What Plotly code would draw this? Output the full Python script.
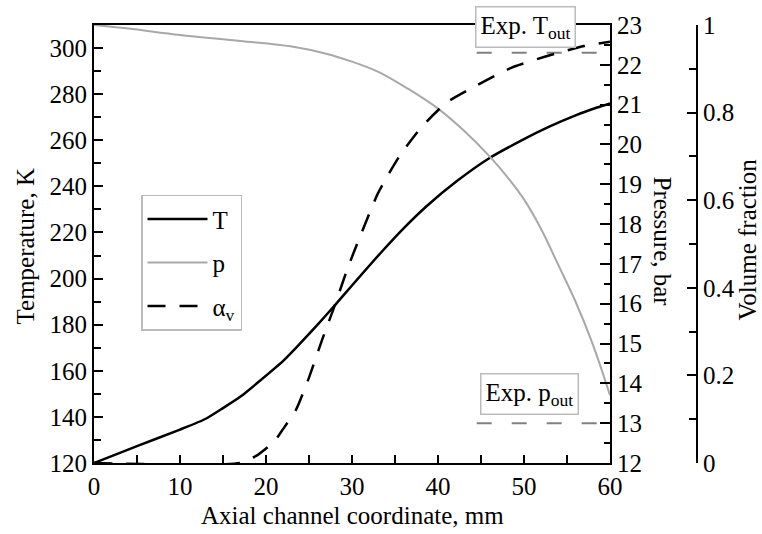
import plotly.graph_objects as go

# ---- data ----
x_T = [0, 5, 10, 13, 15, 17, 19.3, 22, 24, 26, 28, 30, 33.3, 36, 38.7, 42.2, 46, 50, 53, 56, 58.5, 60]
T_vals = [120, 127.3, 134.5, 139.2, 143.8, 148.7, 155.7, 164.3, 172, 180, 188.4, 197, 211,
          221.8, 231.5, 242.3, 252.3, 260.5, 266, 270.8, 274.2, 276]

x_p = [0, 4, 10, 17, 23, 27, 30, 33, 36.5, 40, 43, 46, 48, 50, 52, 54, 56, 58, 60]
p_vals = [23, 22.91, 22.75, 22.6, 22.46, 22.28, 22.08, 21.83, 21.4, 20.9, 20.35, 19.7, 19.2, 18.62,
          17.87, 16.97, 16.05, 14.98, 13.7]

x_a = [0, 17, 19, 21, 22, 23.5, 25, 26.5, 28, 29.5, 31, 33, 35.5, 38, 41, 44.5, 48.5, 52.5, 57, 60]
a_vals = [0, 0, 0.018, 0.05, 0.078, 0.122, 0.195, 0.28, 0.36, 0.445, 0.52, 0.615, 0.70, 0.765,
          0.823, 0.862, 0.902, 0.928, 0.952, 0.962]

exp_x = [44.5, 60]
exp_T_out = 298
exp_p_out = 13.0

FONT = "Liberation Serif"
FS = 25

fig = go.Figure()
fig.add_trace(go.Scatter(x=x_T, y=T_vals, name="T", legendgroup="T", mode="lines",
                         line=dict(color="black", width=2.5, shape="spline", smoothing=0.6), yaxis="y"))
fig.add_trace(go.Scatter(x=x_p, y=p_vals, name="p", legendgroup="p", mode="lines",
                         line=dict(color="#a8a8a8", width=2, shape="spline", smoothing=1.0), yaxis="y2"))
fig.add_trace(go.Scatter(x=x_a, y=a_vals, name="α<sub>v</sub>", legendgroup="a", mode="lines",
                         line=dict(color="black", width=2.5, dash="18px,14px", shape="spline", smoothing=0.6),
                         yaxis="y3"))
fig.add_trace(go.Scatter(x=exp_x, y=[exp_T_out] * 2, mode="lines", showlegend=False,
                         line=dict(color="#808080", width=2, dash="15px,20px"), yaxis="y"))
fig.add_trace(go.Scatter(x=exp_x, y=[exp_p_out] * 2, mode="lines", showlegend=False,
                         line=dict(color="#808080", width=2, dash="15px,20px"), yaxis="y2"))

tickfont = dict(family=FONT, size=FS, color="black")
common = dict(showgrid=False, zeroline=False, showline=True, linecolor="black", linewidth=2,
              ticks="inside", tickwidth=2, tickcolor="black", tickfont=tickfont)

L, R, T, B = 94, 65, 22, 71
W, H = 762, 534
pw = W - L - R
ph = H - T - B

def px(xp):
    return (xp - L) / pw

def py(yp):
    return (H - B - yp) / ph

fig.update_layout(
    width=W, height=H, margin=dict(l=L, r=R, t=T, b=B),
    paper_bgcolor="white", plot_bgcolor="white",
    font=dict(family=FONT, size=FS, color="black"),
    xaxis=dict(domain=[0, 516 / pw], range=[0, 60], dtick=10, ticklen=8, mirror=True,
               minor=dict(dtick=5, ticks="inside", ticklen=8, tickwidth=2, tickcolor="black"), **common),
    yaxis=dict(range=[120, 310], dtick=20, ticklen=9,
               minor=dict(dtick=10, ticks="inside", ticklen=7, tickwidth=2, tickcolor="black"), **common),
    yaxis2=dict(range=[12, 23], dtick=1, ticklen=10, overlaying="y", side="right", anchor="x",
                minor=dict(dtick=0.5, ticks="inside", ticklen=6, tickwidth=2, tickcolor="black"), **common),
    yaxis3=dict(range=[0, 1], dtick=0.2, ticklen=9, overlaying="y", side="right", anchor="free", position=1,
                minor=dict(dtick=0.1, ticks="inside", ticklen=7, tickwidth=2, tickcolor="black"), **common),
    legend=dict(x=px(141), y=py(193), xanchor="left", yanchor="top", bgcolor="white",
                bordercolor="#bbbbbb", borderwidth=1.5, font=dict(family=FONT, size=FS),
                tracegroupgap=8, itemwidth=60),
    showlegend=True,
)

ann = [
    dict(text="Axial channel coordinate, mm", x=px(352), y=py(516), textangle=0),
    dict(text="Temperature, K", x=px(25), y=py(245), textangle=-90),
    dict(text="Pressure, bar", x=px(662), y=py(240), textangle=90),
    dict(text="Volume fraction", x=px(748), y=py(238), textangle=-90),
]
for a in ann:
    fig.add_annotation(xref="paper", yref="paper", xanchor="center", yanchor="middle", showarrow=False,
                       font=dict(family=FONT, size=FS, color="black"), **a)

for txt, cx, cy in [("Exp. T<sub>out</sub>", 525.5, 24), ("Exp. p<sub>out</sub>", 529.5, 394)]:
    fig.add_annotation(xref="paper", yref="paper", x=px(cx), y=py(cy), xanchor="center", yanchor="middle",
                       showarrow=False, text=txt, bgcolor="white", bordercolor="#bbbbbb", borderwidth=1.5,
                       borderpad=4, font=dict(family=FONT, size=FS, color="black"))

fig.write_html("out.html")
